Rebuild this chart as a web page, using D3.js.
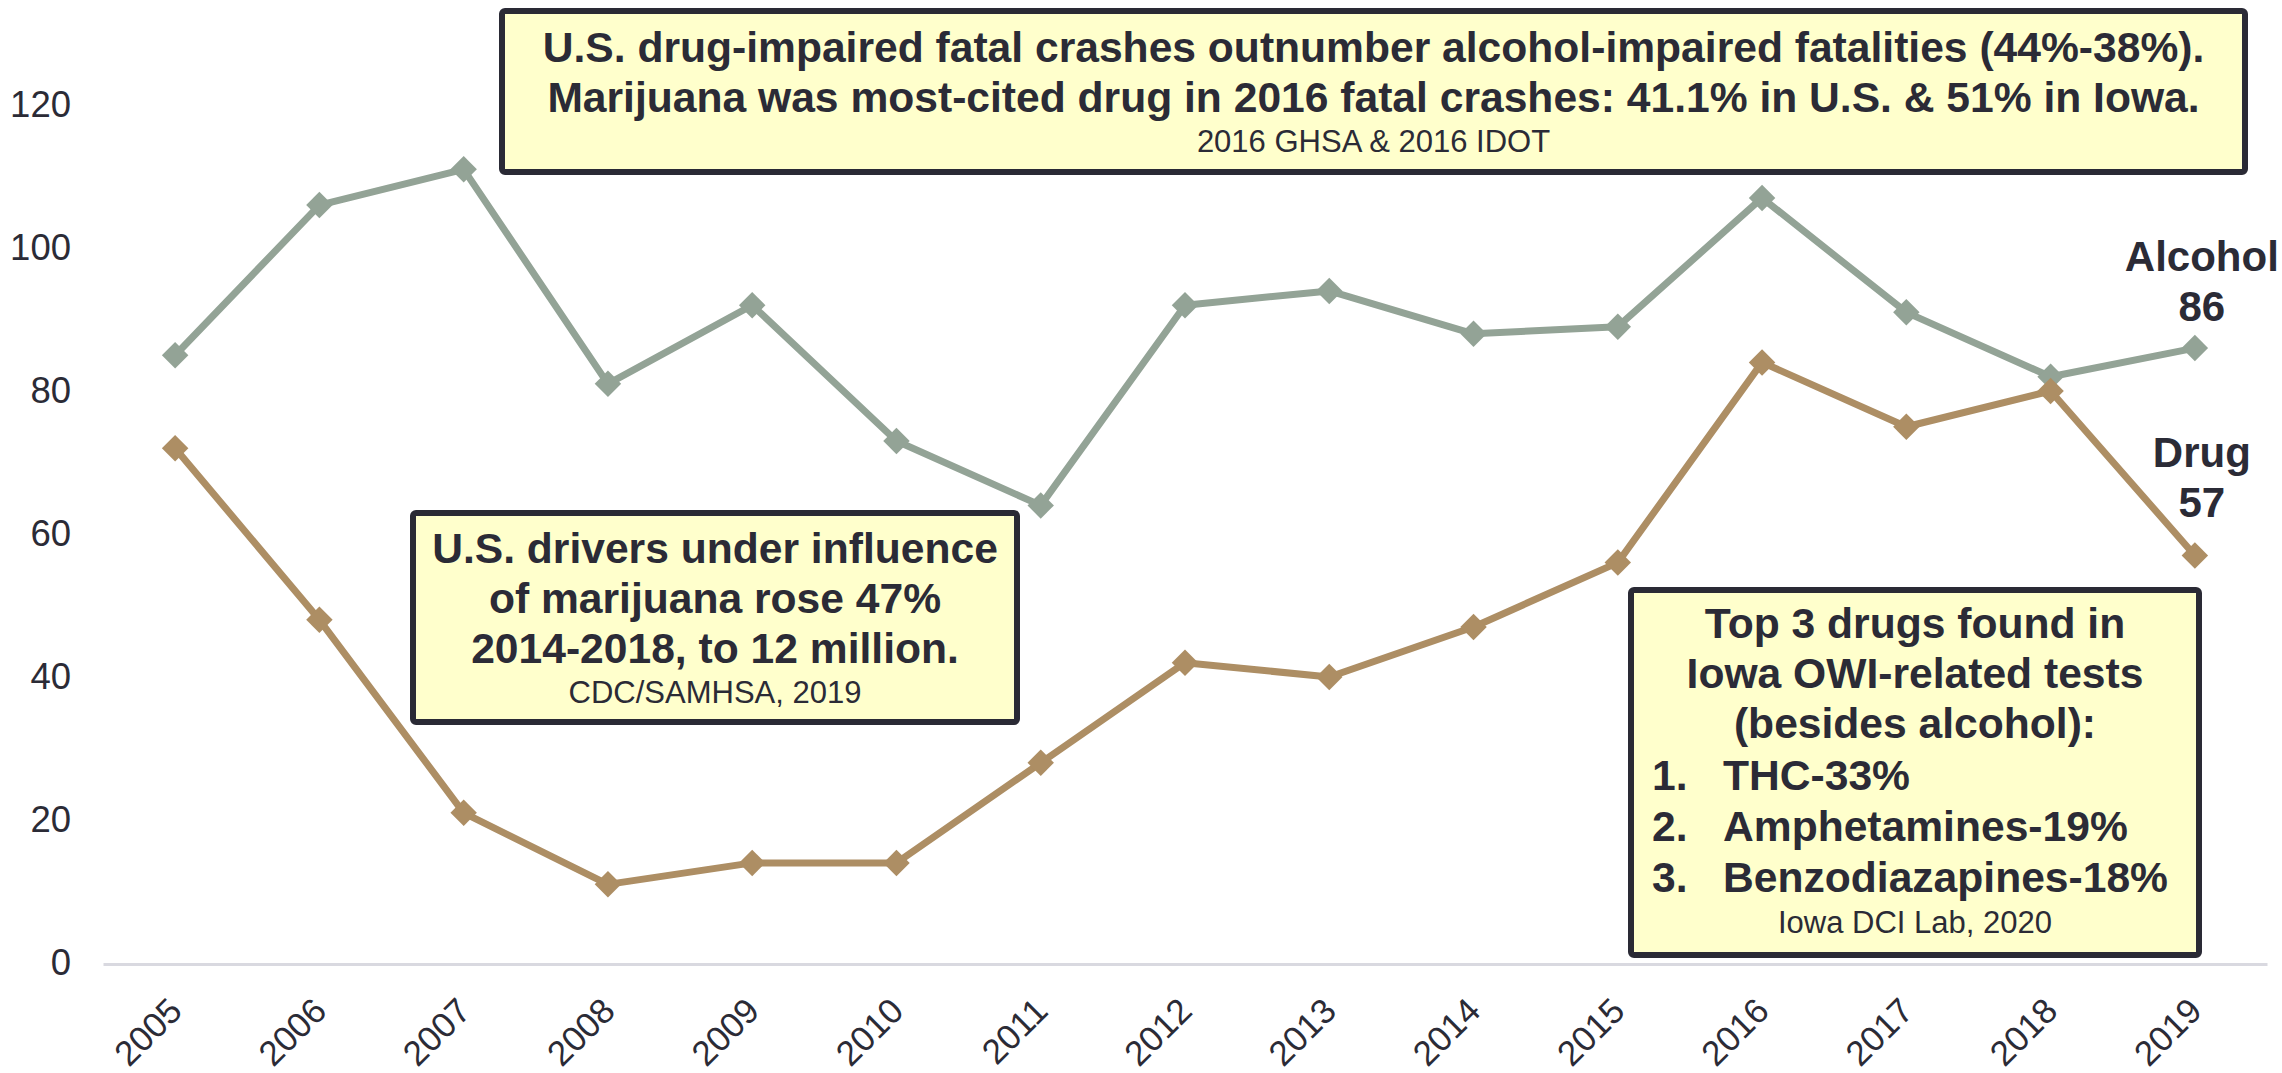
<!DOCTYPE html>
<html><head><meta charset="utf-8">
<script src="https://cdn.jsdelivr.net/npm/d3@7"></script>
<style>html,body{margin:0;padding:0;background:#fff;overflow:hidden}</style>
</head><body>
<svg id="c" width="2282" height="1073"></svg>
<script>
// ---- data ----
const years = ["2005","2006","2007","2008","2009","2010","2011","2012","2013","2014","2015","2016","2017","2018","2019"];
const alcohol = [85,106,111,81,92,73,64,92,94,88,89,107,91,82,86];
const drug = [72,48,21,11,14,14,28,42,40,47,56,84,75,80,57];
const yTicks = [0,20,40,60,80,100,120];
const seriesNames = ["Alcohol","Drug"];

const noteTopLines = [
  "U.S. drug-impaired fatal crashes outnumber alcohol-impaired fatalities (44%-38%).",
  "Marijuana was most-cited drug in 2016 fatal crashes: 41.1% in U.S. & 51% in Iowa."
];
const noteTopSource = "2016 GHSA & 2016 IDOT";
const noteMidLines = ["U.S. drivers under influence","of marijuana rose 47%","2014-2018, to 12 million."];
const noteMidSource = "CDC/SAMHSA, 2019";
const noteRightLines = ["Top 3 drugs found in","Iowa OWI-related tests","(besides alcohol):"];
const noteRightItems = [["1.","THC-33%"],["2.","Amphetamines-19%"],["3.","Benzodiazapines-18%"]];
const noteRightSource = "Iowa DCI Lab, 2020";

// ---- layout ----
const FONT = "'Liberation Sans', Arial, Helvetica, sans-serif";
const TXT = "#2b2b36";
const COL = {Alcohol:"#93a396", Drug:"#ad8e64"};
const BOLD = 42.6, SRC = 31;
const svg = d3.select("#c").style("font-family", FONT);

const x = d3.scaleBand().domain(years).range([103, 2267]);
const cx = d => x(d) + x.bandwidth()/2;
const y = d3.scaleLinear().domain([0,120]).range([963,105]);

// x axis
const xg = svg.append("g").attr("transform","translate(0,964)")
  .call(d3.axisBottom(x).tickSize(0).tickSizeOuter(0));
xg.select(".domain").attr("stroke","#d9d9e0").attr("stroke-width",3);
xg.selectAll("text").attr("x",0).attr("y",0).attr("dy",0)
  .attr("transform","translate(9,49) rotate(-45)")
  .attr("text-anchor","end").attr("font-size",35).attr("fill",TXT).attr("font-family",FONT);

// y axis
const yg = svg.append("g").attr("transform","translate(74,0)")
  .call(d3.axisLeft(y).tickValues(yTicks).tickSize(0));
yg.select(".domain").remove();
yg.selectAll("text").attr("font-size",36.5).attr("fill",TXT).attr("font-family",FONT);

// series
const series = [
  {name:seriesNames[0], values:alcohol},
  {name:seriesNames[1], values:drug}
];
const line = d3.line().x((d,i)=>cx(years[i])).y(d=>y(d));
const diamond = d3.symbol(d3.symbolSquare, 350);
series.forEach(s => {
  const g = svg.append("g");
  g.append("path").attr("d", line(s.values)).attr("fill","none")
    .attr("stroke", COL[s.name]).attr("stroke-width",7).attr("stroke-linejoin","round");
  g.selectAll("path.m").data(s.values).join("path").attr("class","m")
    .attr("d", diamond)
    .attr("transform",(d,i)=>`translate(${cx(years[i])},${y(d)}) rotate(45)`)
    .attr("fill", COL[s.name]);
});

// end labels
const last = years.length-1;
const endLab = [
  {name:seriesNames[0], v:alcohol[last], off:[-77,-27]},
  {name:seriesNames[1], v:drug[last], off:[-88,-38]}
];
endLab.forEach(e => {
  const lx = cx(years[last]) + 7;
  svg.append("text").attr("x",lx).attr("y",y(e.v)+e.off[0]).attr("text-anchor","middle")
    .attr("font-size",42).attr("font-weight","bold").attr("fill",TXT).text(e.name);
  svg.append("text").attr("x",lx).attr("y",y(e.v)+e.off[1]).attr("text-anchor","middle")
    .attr("font-size",42).attr("font-weight","bold").attr("fill",TXT).text(e.v);
});

// annotation boxes
function box(x0,y0,x1,y1){
  svg.append("rect").attr("x",x0).attr("y",y0).attr("width",x1-x0).attr("height",y1-y0)
    .attr("rx",3).attr("fill","#ffffcc").attr("stroke","#2a2a35").attr("stroke-width",6);
}
function txt(xp,yp,t,size,bold,anchor){
  svg.append("text").attr("x",xp).attr("y",yp).attr("text-anchor",anchor||"middle")
    .attr("font-size",size).attr("font-weight",bold?"bold":"normal").attr("fill",TXT).text(t);
}
// top box
box(502,11,2245,172);
const tcx = (502+2245)/2;
noteTopLines.forEach((t,i)=>txt(tcx, 62+i*50, t, BOLD, true));
txt(tcx,152,noteTopSource,SRC,false);

// middle box
box(413,513,1017,722);
const mcx = (413+1017)/2;
noteMidLines.forEach((t,i)=>txt(mcx, 563+i*50, t, BOLD, true));
txt(mcx,703,noteMidSource,SRC,false);

// right box
box(1631,590,2199,955);
const rcx = (1631+2199)/2;
noteRightLines.forEach((t,i)=>txt(rcx, 638+i*50, t, BOLD, true));
noteRightItems.forEach((it,i)=>{
  txt(1652, 790+i*51, it[0], BOLD, true, "start");
  txt(1723, 790+i*51, it[1], BOLD, true, "start");
});
txt(rcx,933,noteRightSource,SRC,false);
</script>
</body></html>
